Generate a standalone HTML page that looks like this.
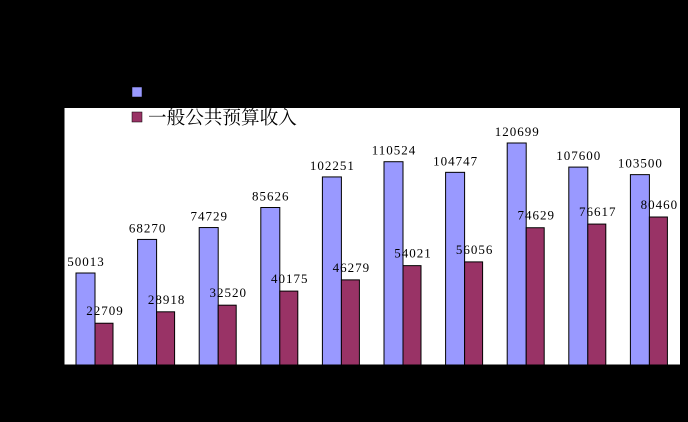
<!DOCTYPE html>
<html><head><meta charset="utf-8"><style>
html,body{margin:0;padding:0;background:#000;width:688px;height:422px;overflow:hidden}
svg{display:block}
text{font-family:"Liberation Serif","Noto Serif CJK SC",serif}
</style></head><body>
<svg id="s" width="688" height="422" xmlns="http://www.w3.org/2000/svg">
<rect x="64" y="108" width="616" height="257" fill="#fff"/>
<line x1="64" y1="108" x2="64" y2="365" stroke="#000"/>
<line x1="64" y1="365" x2="680" y2="365" stroke="#000"/>
<rect x="132" y="87" width="10" height="10" fill="#9999ff" stroke="#000" stroke-width="0.5"/>
<rect x="132" y="112" width="10" height="10" fill="#993366" stroke="#000" stroke-width="0.5"/>
<text x="148" y="124" font-size="18.6" font-family="'Liberation Sans','Noto Sans CJK SC',sans-serif" fill="#000">一般公共预算收入</text>
<g id="g"></g>
</svg>
<script>
var a=[50013,68270,74729,85626,102251,110524,104747,120699,107600,103500];
var b=[22709,28918,32520,40175,46279,54021,56056,74629,76617,80460];
var k=222/120699,h='';
for(var i=0;i<=7;i++){var y=365-i*36.6;h+='<line x1="60" y1="'+y+'" x2="64" y2="'+y+'" stroke="#000"/>';}
for(var i=0;i<10;i++){var x0=64+i*61.6;
h+='<line x1="'+x0+'" y1="365" x2="'+x0+'" y2="369" stroke="#000"/>';
var ha=a[i]*k,hb=b[i]*k;
h+='<rect x="'+(x0+12)+'" y="'+(365-ha)+'" width="19" height="'+ha+'" fill="#9999ff" stroke="#000"/>';
h+='<rect x="'+(x0+31)+'" y="'+(365-hb)+'" width="18" height="'+hb+'" fill="#993366" stroke="#000"/>';
h+='<text x="'+(x0+22)+'" y="'+(365-ha-7)+'" font-size="13" letter-spacing="1" text-anchor="middle">'+a[i]+'</text>';
h+='<text x="'+(x0+41)+'" y="'+(365-hb-8)+'" font-size="13" letter-spacing="1" text-anchor="middle">'+b[i]+'</text>';}
document.getElementById('g').innerHTML=h;
</script>
</body></html>
